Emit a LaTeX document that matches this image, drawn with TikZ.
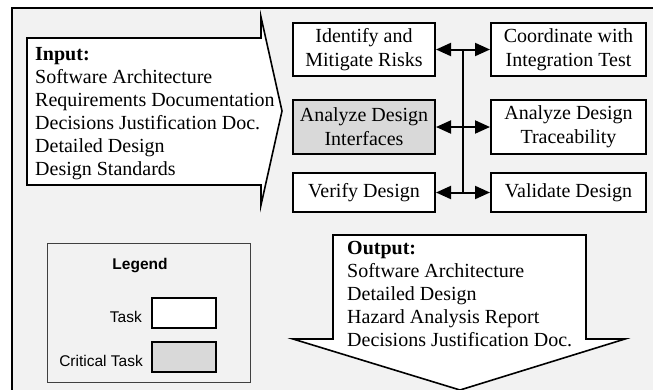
\documentclass[tikz,border=0pt]{standalone}
\usepackage{fontspec}
\setmainfont{Liberation Serif}
\setsansfont{Liberation Sans}
\usetikzlibrary{arrows.meta,calc}
\definecolor{bgfill}{HTML}{F2F2F2}
\definecolor{critfill}{HTML}{D9D9D9}
\begin{document}
\begin{tikzpicture}[x=1pt,y=-1pt,
  task/.style={draw,line width=2pt,fill=white,inner sep=0pt,align=center,
    font=\fontsize{20}{24}\selectfont},
  crit/.style={task,fill=critfill},
  blocktext/.style={anchor=base west,inner sep=0pt,
    font=\fontsize{20}{23}\selectfont},
  link/.style={line width=2pt,{Triangle[length=15pt,width=13pt]}-{Triangle[length=15pt,width=13pt]}},
  bigarrow/.style={line width=1.6pt,fill=white,line join=miter},
  legtext/.style={anchor=base east,inner sep=0pt,font=\sffamily\fontsize{15.5}{18}\selectfont},
  legbox/.style={draw,line width=1.8pt,minimum width=64pt,minimum height=30pt,inner sep=0pt}]
\clip (0,0) rectangle (653,389);
\fill[white] (0,0) rectangle (653,389);
\draw[line width=2pt,fill=bgfill] (12,8) rectangle (680,420);

% input arrow
\draw[bigarrow] (27,38) -- (261,38) -- (261,17) -- (282,111) -- (261,205) -- (261,185) -- (27,185) -- cycle;
\node[blocktext] (intext) at (35,60) {\begin{tabular}[t]{@{}l@{}}\textbf{Input:}\\Software Architecture\\Requirements Documentation\\Decisions Justification Doc.\\Detailed Design\\Design Standards\end{tabular}};

% tasks
\node[task,minimum width=142pt,minimum height=53pt] (ident) at (364,49.5) {Identify and\\Mitigate Risks};
\node[task,minimum width=155pt,minimum height=53pt] (coord) at (568.5,49.5) {Coordinate with\\Integration Test};
\node[crit,minimum width=142pt,minimum height=54pt] (interf) at (364,127) {Analyze Design\\Interfaces};
\node[task,minimum width=155pt,minimum height=54pt] (trace) at (568.5,127) {Analyze Design\\Traceability};
\node[task,minimum width=142pt,minimum height=39pt] (verify) at (364,192.5) {Verify Design};
\node[task,minimum width=155pt,minimum height=39pt] (valid) at (568.5,192.5) {Validate Design};

\coordinate (j1) at ($(ident.east)!0.5!(coord.west)$);
\coordinate (j3) at ($(verify.east)!0.5!(valid.west)$);
\draw[line width=2pt] (j1) -- (j3);
\draw[link] (ident.east) -- (coord.west);
\draw[link] (interf.east) -- (trace.west);
\draw[link] (verify.east) -- (valid.west);

% output arrow
\draw[bigarrow] (333,235) -- (586,235) -- (586,339) -- (625,339) -- (460,390) -- (293,339) -- (333,339) -- cycle;
\node[blocktext] (outtext) at (347,254) {\begin{tabular}[t]{@{}l@{}}\textbf{Output:}\\Software Architecture\\Detailed Design\\Hazard Analysis Report\\Decisions Justification Doc.\end{tabular}};

% legend
\draw[line width=0.8pt,draw=black!75,fill=bgfill] (47,243) rectangle (250,382);
\node[anchor=base,inner sep=0pt,font=\sffamily\bfseries\fontsize{15.5}{18}\selectfont] (legend) at (140,269) {Legend};
\node[legbox,fill=white] (ltask) at (184,313) {};
\node[legbox,fill=critfill] (lcrit) at (184,357) {};
\node[legtext] (ltasktext) at (142,322) {Task};
\node[legtext] (lcrittext) at (143,366) {Critical Task};
\end{tikzpicture}
\end{document}
